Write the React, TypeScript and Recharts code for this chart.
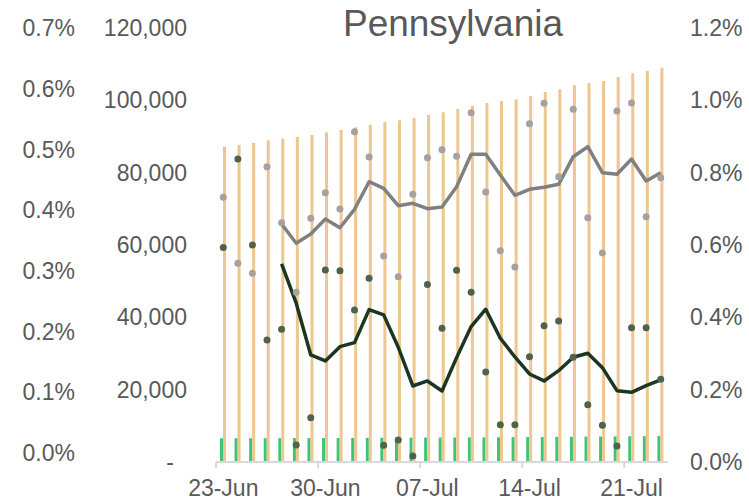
import React from 'react';
import { ComposedChart, Bar, Line, XAxis, YAxis } from 'recharts';

const dates = [
  '23-Jun', '24-Jun', '25-Jun', '26-Jun', '27-Jun', '28-Jun', '29-Jun', '30-Jun',
  '01-Jul', '02-Jul', '03-Jul', '04-Jul', '05-Jul', '06-Jul', '07-Jul', '08-Jul',
  '09-Jul', '10-Jul', '11-Jul', '12-Jul', '13-Jul', '14-Jul', '15-Jul', '16-Jul',
  '17-Jul', '18-Jul', '19-Jul', '20-Jul', '21-Jul', '22-Jul', '23-Jul',
];

// cumulative cases (orange bars, inner left axis)
const totalCases = [
  87180, 87650, 88200, 88950, 89390, 89860, 90420, 91160, 91800, 92540, 93260,
  94010, 94480, 95120, 95950, 96690, 97600, 98430, 99260, 99820, 100310, 101200,
  102300, 103050, 104150, 104790, 105350, 106450, 107470, 108190, 109020,
];

// cumulative deaths (green bars, inner left axis)
const totalDeaths = [
  6560, 6570, 6580, 6590, 6600, 6610, 6620, 6640, 6650, 6660, 6680,
  6700, 6710, 6720, 6740, 6760, 6780, 6800, 6820, 6840, 6860, 6900,
  6930, 6960, 6990, 7020, 7050, 7080, 7120, 7150, 7180,
];

// daily case growth, % (grey dots, right axis)
const caseGrowthPct = [
  0.7319, 0.5494, 0.5218, 0.8165, 0.6617, 0.4692, 0.6738, 0.7446, 0.6995, 0.9133,
  0.8433, 0.5696, 0.5124, 0.7402, 0.8414, 0.8635, 0.8453, 0.9658, 0.7466, 0.5842,
  0.5392, 0.9354, 0.9918, 0.7888, 0.9752, 0.6755, 0.5779, 0.9705, 0.9926, 0.6783,
  0.7861,
];

// case growth average, % (grey line, right axis)
const caseGrowthAvgPct = [
  null, null, null, null, 0.6581, 0.6047, 0.6304, 0.6719, 0.6478, 0.6987,
  0.7750, 0.7568, 0.7087, 0.7153, 0.7004, 0.7051, 0.7612, 0.8508, 0.8508, 0.7936,
  0.7374, 0.7540, 0.7595, 0.7678, 0.8442, 0.8718, 0.7999, 0.7955, 0.8378, 0.7770,
  0.7999,
];

// daily death growth, % (dark green dots, outer left axis)
const deathGrowthPct = [
  0.3384, 0.4841, 0.3428, 0.1862, 0.2039, 0.0132, 0.0582, 0.3016, 0.3000, 0.2357,
  0.2879, 0.0127, 0.0214, -0.0049, 0.2774, 0.2055, 0.3011, 0.2649, 0.1335, 0.0466,
  0.0466, 0.1587, 0.2098, 0.2176, 0.1577, 0.0796, 0.0457, 0.0115, 0.2065, 0.2065,
  0.1215,
];

// death growth average, % (dark green line, outer left axis)
const deathGrowthAvgPct = [
  null, null, null, null, 0.3115, 0.2467, 0.1615, 0.1516, 0.1752, 0.1818,
  0.2362, 0.2275, 0.1742, 0.1104, 0.1187, 0.1022, 0.1571, 0.2082, 0.2368, 0.1890,
  0.1582, 0.1302, 0.1187, 0.1356, 0.1577, 0.1643, 0.1406, 0.1027, 0.1000, 0.1109,
  0.1203,
];

const barTicks = [0, 20000, 40000, 60000, 80000, 100000, 120000];
const rightTicks = [0, 0.002, 0.004, 0.006, 0.008, 0.01, 0.012];
const outerTicks = [0, 0.001, 0.002, 0.003, 0.004, 0.005, 0.006, 0.007];

const data = dates.map((d, i) => ({
  date: d,
  cases: totalCases[i],
  deaths: totalDeaths[i],
  cg: caseGrowthPct[i] / 100,
  cgAvg: caseGrowthAvgPct[i] == null ? null : (caseGrowthAvgPct[i] as number) / 100,
  dg: deathGrowthPct[i] / 100,
  dgAvg: deathGrowthAvgPct[i] == null ? null : (deathGrowthAvgPct[i] as number) / 100,
}));

const FONT = '"Liberation Sans", Arial, sans-serif';
const TXT = '#595959';
const W = 749;
const H = 497;
const LEFT = 216;
const RIGHT_W = 81;
const band = (W - LEFT - RIGHT_W) / dates.length;

const tickStyle = { fill: TXT, fontSize: 23, fontFamily: FONT };

const XTick = (props: any) => {
  const { x, y, payload } = props;
  return (
    <g>
      <line x1={x - band / 2} x2={x - band / 2} y1={y} y2={y + 6} stroke="#D9D9D9" strokeWidth={2} />
      <text x={x} y={y + 18} dy="0.71em" textAnchor="middle" fill={TXT} fontSize={23} fontFamily={FONT}>
        {payload.value}
      </text>
    </g>
  );
};

const BarsTick = (props: any) => {
  const { x, y, payload } = props;
  const v = payload.value as number;
  return (
    <text x={v === 0 ? x - 13 : x} y={y} dy="0.355em" textAnchor="end" fill={TXT} fontSize={23} fontFamily={FONT}>
      {v === 0 ? '-' : v.toLocaleString('en-US')}
    </text>
  );
};

const pct = (v: number) => `${(v * 100).toFixed(1)}%`;

export default function App() {
  return (
    <div style={{ position: 'absolute', left: 0, top: 0, width: W, height: H, background: '#fff' }}>
      <ComposedChart
        width={W}
        height={H}
        data={data}
        margin={{ top: 28, right: 0, bottom: 0, left: 0 }}
        barGap={0}
      >
        <XAxis
          dataKey="date"
          interval={6}
          tickLine={false}
          tickSize={0}
          tickMargin={0}
          height={35}
          axisLine={{ stroke: '#D9D9D9', strokeWidth: 2 }}
          tick={<XTick />}
        />
        <YAxis
          yAxisId="bars"
          orientation="left"
          width={110}
          domain={[0, 120000]}
          ticks={barTicks}
          axisLine={false}
          tickLine={false}
          tickSize={0}
          tickMargin={29}
          tick={<BarsTick />}
          interval={0}
        />
        <YAxis
          yAxisId="dg"
          orientation="left"
          width={106}
          domain={[-0.000148, 0.007]}
          ticks={outerTicks}
          allowDataOverflow
          axisLine={false}
          tickLine={false}
          tickSize={0}
          tickMargin={31}
          tick={tickStyle}
          tickFormatter={pct}
          interval={0}
        />
        <YAxis
          yAxisId="right"
          orientation="right"
          width={RIGHT_W}
          domain={[0, 0.012]}
          ticks={rightTicks}
          axisLine={false}
          tickLine={false}
          tickSize={0}
          tickMargin={22}
          tick={tickStyle}
          tickFormatter={pct}
          interval={0}
        />
        <Bar yAxisId="bars" dataKey="deaths" fill="#3DC476" barSize={3} isAnimationActive={false} />
        <Bar yAxisId="bars" dataKey="cases" fill="#EDC78F" barSize={3} isAnimationActive={false} />
        <Line
          yAxisId="right"
          dataKey="cgAvg"
          stroke="#808080"
          strokeWidth={3.5}
          strokeLinejoin="round"
          dot={false}
          activeDot={false}
          isAnimationActive={false}
        />
        <Line
          yAxisId="dg"
          dataKey="dgAvg"
          stroke="#1B3623"
          strokeWidth={3.5}
          strokeLinejoin="round"
          dot={false}
          activeDot={false}
          isAnimationActive={false}
        />
        <Line
          yAxisId="right"
          dataKey="cg"
          stroke="none"
          strokeWidth={0}
          dot={{ r: 3.5, fill: '#A6A19F', stroke: 'none' }}
          activeDot={false}
          isAnimationActive={false}
        />
        <Line
          yAxisId="dg"
          dataKey="dg"
          stroke="none"
          strokeWidth={0}
          dot={{ r: 3.5, fill: '#4E634E', stroke: 'none' }}
          activeDot={false}
          isAnimationActive={false}
        />
      </ComposedChart>
      <div
        style={{
          position: 'absolute',
          left: 253,
          width: 400,
          top: 5,
          textAlign: 'center',
          fontSize: 37,
          lineHeight: '37px',
          color: TXT,
          fontFamily: FONT,
        }}
      >
        Pennsylvania
      </div>
    </div>
  );
}
